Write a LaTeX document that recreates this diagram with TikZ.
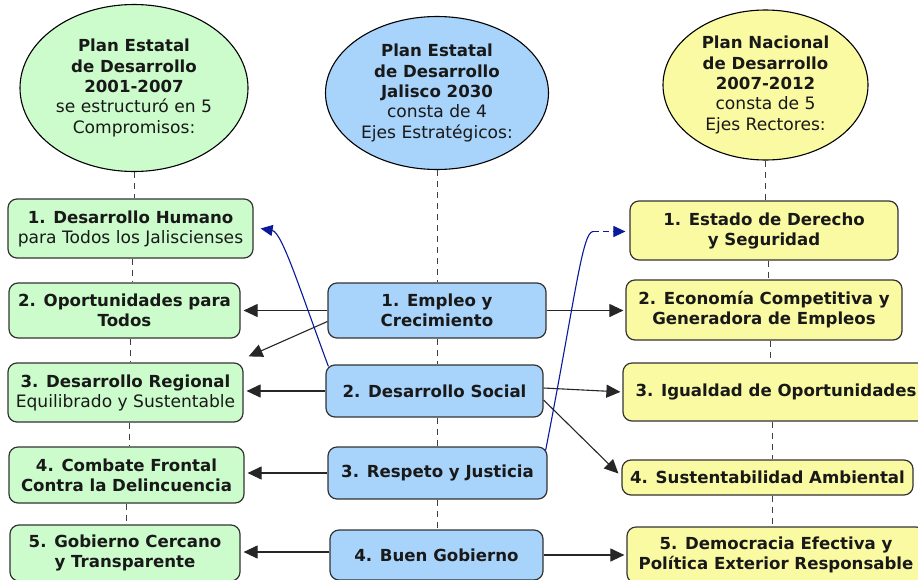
\documentclass[tikz,border=0pt]{standalone}
\usepackage{fontspec}
\setmainfont{DejaVu Sans}
\usetikzlibrary{shapes.geometric,arrows.meta}
\definecolor{gfill}{HTML}{CCFCCC}
\definecolor{bfill}{HTML}{A8D3FA}
\definecolor{yfill}{HTML}{FAFAA2}
\definecolor{edge}{HTML}{333333}
\definecolor{dblue}{HTML}{0A1A9A}
\newcommand{\rg}[1]{{\fontsize{17.1}{20}\selectfont #1}}
\tikzset{
  box/.style={draw=edge, line width=1.2pt, rounded corners=9pt, align=center, inner sep=2pt,
              font=\fontsize{16.6}{20}\selectfont, text=black!90},
  gbox/.style={box, fill=gfill},
  bbox/.style={box, fill=bfill},
  ybox/.style={box, fill=yfill},
  oval/.style={ellipse, draw=black, line width=1.1pt, align=center, inner sep=0pt,
               font=\fontsize{16.6}{20.3}\selectfont, text=black!90},
  dashline/.style={draw=black!75, line width=1pt, dash pattern=on 6pt off 5pt},
  arr/.style={draw=black!85, line width=1.1pt, -{Triangle[length=14pt,width=13pt]}},
  barr/.style={draw=dblue, line width=1.1pt, -{Triangle[length=12pt,width=11pt]}},
  bline/.style={draw=dblue, line width=1.1pt},
}
\begin{document}
\begin{tikzpicture}[x=1pt,y=-1pt]
\useasboundingbox[fill=white] (0,0) rectangle (918,579);

% ellipses
\node[oval, fill=gfill, minimum width=228pt, minimum height=167pt] (EL) at (134,88)
  {\textbf{Plan Estatal}\\\textbf{de Desarrollo}\\\textbf{2001-2007}\\\rg{se estructuró en 5}\\\rg{Compromisos:}};
\node[oval, fill=bfill, minimum width=223pt, minimum height=153pt] (EM) at (437,93)
  {\textbf{Plan Estatal}\\\textbf{de Desarrollo}\\\textbf{Jalisco 2030}\\\rg{consta de 4}\\\rg{Ejes Estratégicos:}};
\node[oval, fill=yfill, minimum width=205pt, minimum height=150pt] (ER) at (765.5,85)
  {\textbf{Plan Nacional}\\\textbf{de Desarrollo}\\\textbf{2007-2012}\\\rg{consta de 5}\\\rg{Ejes Rectores:}};

% left boxes
\node[gbox, minimum width=245pt, minimum height=59pt] (L1) at (130.5,228.5)
  {\textbf{1. Desarrollo Humano}\\\rg{para Todos los Jaliscienses}};
\node[gbox, minimum width=231pt, minimum height=55pt] (L2) at (124.5,310.5)
  {\textbf{2. Oportunidades para}\\\textbf{Todos}};
\node[gbox, minimum width=235pt, minimum height=59pt] (L3) at (125.5,392.5)
  {\textbf{3. Desarrollo Regional}\\\rg{Equilibrado y Sustentable}};
\node[gbox, minimum width=235pt, minimum height=56pt] (L4) at (126.5,475)
  {\textbf{4. Combate Frontal}\\\textbf{Contra la Delincuencia}};
\node[gbox, minimum width=230pt, minimum height=56pt] (L5) at (125,553)
  {\textbf{5. Gobierno Cercano}\\\textbf{y Transparente}};

% middle boxes
\node[bbox, minimum width=218pt, minimum height=55pt] (M1) at (437,310.5)
  {\textbf{1. Empleo y}\\\textbf{Crecimiento}};
\node[bbox, minimum width=217pt, minimum height=52pt] (M2) at (434.5,391)
  {\textbf{2. Desarrollo Social}};
\node[bbox, minimum width=219pt, minimum height=52pt] (M3) at (437.5,473)
  {\textbf{3. Respeto y Justicia}};
\node[bbox, minimum width=213pt, minimum height=50pt] (M4) at (436.5,555)
  {\textbf{4. Buen Gobierno}};

% right boxes
\node[ybox, minimum width=268pt, minimum height=59pt] (R1) at (764,230.5)
  {\textbf{1. Estado de Derecho}\\\textbf{y Seguridad}};
\node[ybox, minimum width=276pt, minimum height=60pt] (R2) at (764,310)
  {\textbf{2. Economía Competitiva y}\\\textbf{Generadora de Empleos}};
\node[ybox, minimum width=306pt, minimum height=58pt] (R3) at (776,392)
  {\textbf{3. Igualdad de Oportunidades}};
\node[ybox, minimum width=291pt, minimum height=35pt] (R4) at (767.5,477.5)
  {\textbf{4. Sustentabilidad Ambiental}};
\node[ybox, minimum width=298pt, minimum height=56pt] (R5) at (776,555)
  {\textbf{5. Democracia Efectiva y}\\\textbf{Política Exterior Responsable}};

% dashed verticals
\draw[dashline] (EL.south) -- (EL.south |- L1.north);
\draw[dashline] ([xshift=2pt]L1.south) -- ([xshift=2pt]L1.south |- L2.north);
\draw[dashline] ([xshift=6pt]L2.south) -- ([xshift=6pt]L2.south |- L3.north);
\draw[dashline] ([xshift=4pt]L3.south) -- ([xshift=4pt]L3.south |- L4.north);
\draw[dashline] ([xshift=0pt]L4.south) -- ([xshift=0pt]L4.south |- L5.north);

\draw[dashline] (EM.south) -- (EM.south |- M1.north);
\draw[dashline] (M1.south) -- (M1.south |- M2.north);
\draw[dashline] ([xshift=2.5pt]M2.south) -- ([xshift=2.5pt]M2.south |- M3.north);
\draw[dashline] (M3.south) -- (M3.south |- M4.north);

\draw[dashline] (ER.south) -- (ER.south |- R1.north);
\draw[dashline] ([xshift=4pt]R1.south) -- ([xshift=4pt]R1.south |- R2.north);
\draw[dashline] ([xshift=6pt]R2.south) -- ([xshift=6pt]R2.south |- R3.north);
\draw[dashline] ([xshift=-4pt]R3.south) -- ([xshift=-4pt]R3.south |- R4.north);
\draw[dashline] ([xshift=5pt]R4.south) -- ([xshift=5pt]R4.south |- R5.north);

% black arrows to the left
\draw[arr, shorten >=3pt] (M1.west) -- (M1.west -| L2.east);
\draw[arr] ([yshift=-11pt]M1.west) -- ([shift={(5pt,6pt)}]L3.north east);
\draw[arr, shorten >=3pt] (M2.west) -- (M2.west -| L3.east);
\draw[arr, shorten >=3pt] (M3.west) -- (M3.west -| L4.east);
\draw[arr, shorten >=3pt] ([yshift=3pt]M4.west) -- ([yshift=3pt]M4.west -| L5.east);

% black arrows to the right
\draw[arr, shorten >=2pt] (M1.east) -- (M1.east -| R2.west);
\draw[arr, shorten >=2pt] ([yshift=3pt]M2.east) -- (R3.west);
\draw[arr] ([yshift=-9pt]M2.east) -- ([shift={(-3pt,4pt)}]R4.west);
\draw[arr, shorten >=2pt] (M4.east) -- (M4.east -| R5.west);

% blue connectors
\draw[barr] ([xshift=3pt,yshift=-2pt]M2.north west) .. controls (300,290) and (282,232) .. ([xshift=7pt]L1.east);
\coordinate (bend) at (593,231.5);
\draw[bline] ([xshift=-2pt,yshift=-4pt]M3.north east) .. controls (575,300) and (582,232) .. (bend);
\draw[barr, dash pattern=on 6pt off 4pt, shorten >=4pt] (bend) -- (bend -| R1.west);
\end{tikzpicture}
\end{document}
